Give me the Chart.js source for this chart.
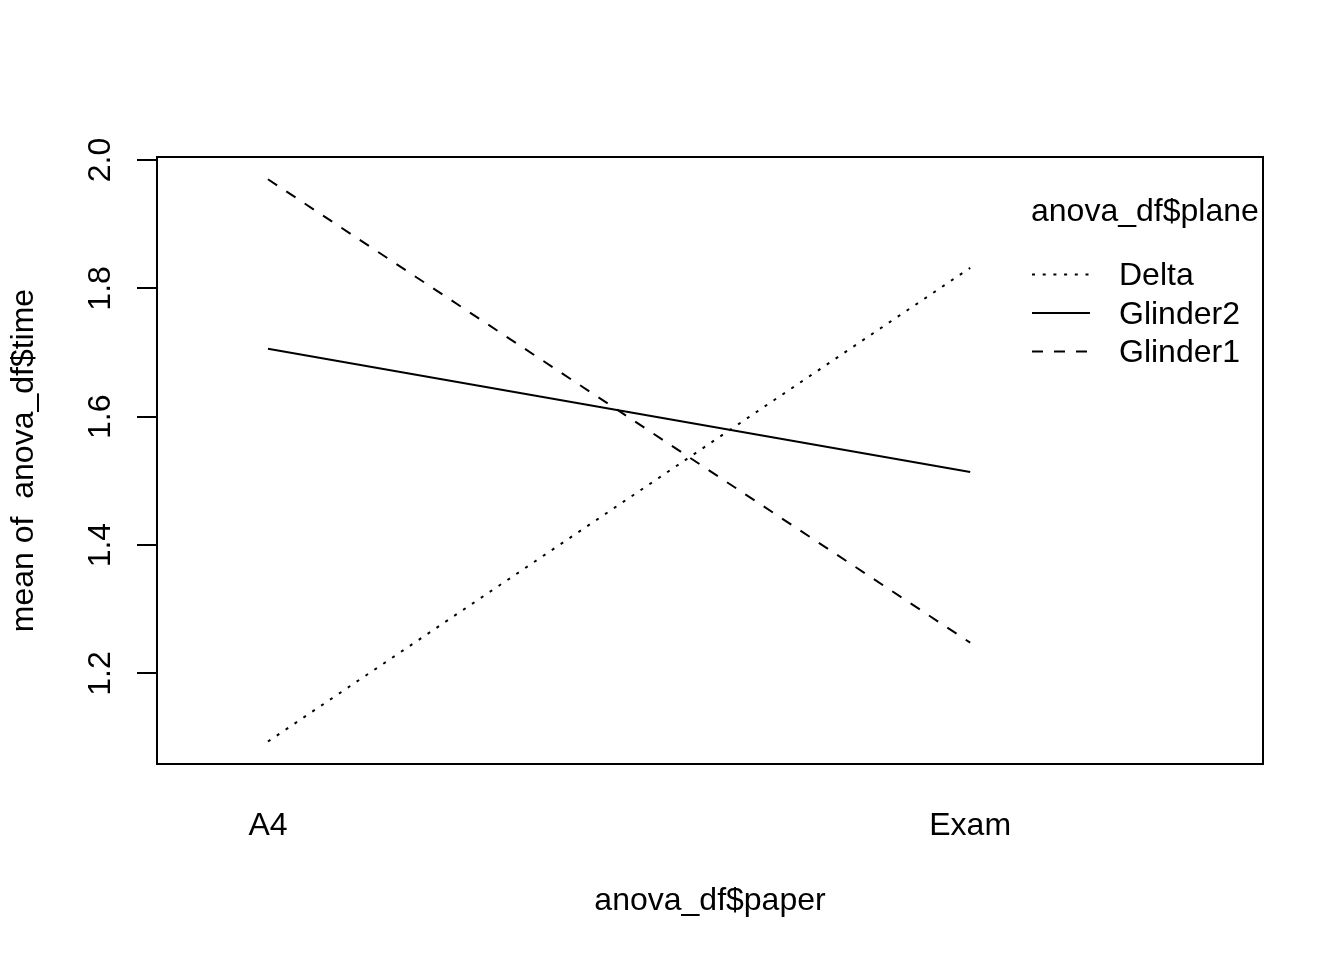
<!DOCTYPE html>
<html>
<head>
<meta charset="utf-8">
<script src="https://cdn.jsdelivr.net/npm/chart.js@4.4.0/dist/chart.umd.min.js"></script>
<style>
  html, body { margin: 0; padding: 0; background: #fff; }
  canvas { display: block; }
</style>
</head>
<body>
<canvas id="chart" width="1344" height="960"></canvas>
<script>
// data
const paperLevels = ['A4', 'Exam'];
const planeNames = ['Delta', 'Glinder2', 'Glinder1'];
const deltaMeans = [1.094, 1.832];
const glinder2Means = [1.706, 1.514];
const glinder1Means = [1.970, 1.248];
const yTicks = [1.2, 1.4, 1.6, 1.8, 2.0];

const FONT = "'Liberation Sans', Arial, Helvetica, sans-serif";
Chart.defaults.font.family = FONT;
Chart.defaults.font.size = 32;
Chart.defaults.color = '#000';

const seriesValues = [deltaMeans, glinder2Means, glinder1Means];
const dashes = [[3, 7.7], [], [11, 11]];

const datasets = planeNames.map((name, i) => ({
    label: name,
    data: seriesValues[i].map((v, j) => ({ x: j + 1, y: v })),
    borderColor: '#000',
    borderWidth: 2,
    borderDash: dashes[i],
    pointRadius: 0,
    tension: 0,
    fill: false
}));

// plot box (R draws a full frame around the region)
const boxPlugin = {
    id: 'box',
    afterDraw(chart) {
        const { ctx, chartArea: a } = chart;
        ctx.save();
        ctx.strokeStyle = '#000';
        ctx.lineWidth = 2;
        ctx.strokeRect(a.left, a.top, a.right - a.left, a.bottom - a.top);
        ctx.restore();
    }
};

// legend in the style of interaction.plot
const legendPlugin = {
    id: 'rlegend',
    afterDraw(chart) {
        const ctx = chart.ctx;
        const x0 = 1032, x1 = 1090, xt = 1119;
        ctx.save();
        ctx.fillStyle = '#000';
        ctx.font = '32px ' + FONT;
        ctx.textAlign = 'left';
        ctx.textBaseline = 'alphabetic';
        ctx.fillText('anova_df$plane', 1031, 221);
        chart.data.datasets.forEach((ds, i) => {
            const base = 285 + i * 38.5;
            ctx.beginPath();
            ctx.setLineDash(ds.borderDash);
            ctx.lineWidth = 2;
            ctx.strokeStyle = '#000';
            ctx.moveTo(x0, base - 10.5);
            ctx.lineTo(x1, base - 10.5);
            ctx.stroke();
            ctx.setLineDash([]);
            ctx.fillText(ds.label, xt, base);
        });
        ctx.restore();
    }
};

new Chart(document.getElementById('chart'), {
    type: 'line',
    data: { datasets },
    options: {
        responsive: false,
        animation: false,
        layout: { padding: { left: 0, top: 157, right: 81, bottom: 0 } },
        plugins: {
            legend: { display: false },
            tooltip: { enabled: false }
        },
        scales: {
            x: {
                type: 'linear',
                min: 0.842,
                max: 2.417,
                afterFit: s => { s.height = 196; },
                afterBuildTicks: s => { s.ticks = paperLevels.map((_, i) => ({ value: i + 1 })); },
                grid: { display: false, drawTicks: false },
                border: { display: false },
                ticks: {
                    padding: 43,
                    maxRotation: 0,
                    autoSkip: false,
                    callback: v => paperLevels[v - 1]
                },
                title: {
                    display: true,
                    text: 'anova_df$paper',
                    padding: { top: 0, bottom: 40 }
                }
            },
            y: {
                min: 1.059,
                max: 2.0047,
                afterFit: s => { s.width = 157; },
                afterBuildTicks: s => { s.ticks = yTicks.map(v => ({ value: v })); },
                grid: {
                    drawOnChartArea: false,
                    drawTicks: true,
                    tickLength: 20,
                    lineWidth: 2,
                    color: '#000'
                },
                border: { display: false },
                ticks: {
                    minRotation: 90,
                    maxRotation: 90,
                    crossAlign: 'center',
                    padding: 14,
                    callback: v => v.toFixed(1)
                },
                title: {
                    display: true,
                    text: 'mean of  anova_df$time',
                    padding: { top: 5, bottom: 0 }
                }
            }
        }
    },
    plugins: [boxPlugin, legendPlugin]
});
</script>
</body>
</html>
